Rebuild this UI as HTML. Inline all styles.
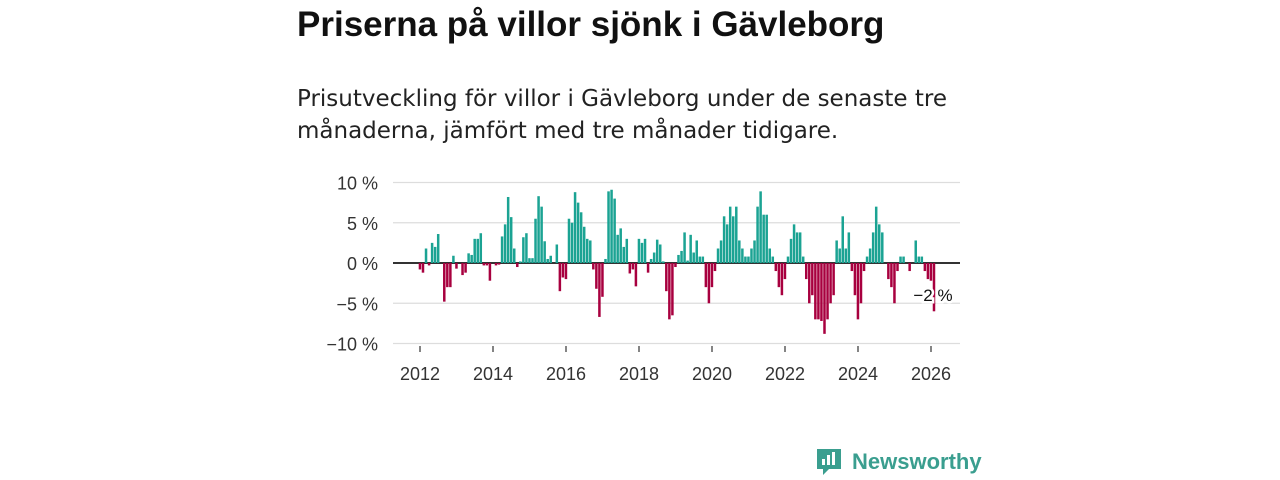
<!DOCTYPE html>
<html><head><meta charset="utf-8"><style>
body{margin:0;width:1280px;height:480px;background:#fff;font-family:"Liberation Sans","DejaVu Sans",sans-serif;overflow:hidden;position:relative}
h1{position:absolute;left:297px;top:5px;margin:0;font-size:35px;font-weight:bold;color:#111}
p{position:absolute;left:297px;top:83px;margin:0;font-family:"DejaVu Sans",sans-serif;font-size:23px;line-height:32px;color:#222;width:700px}
svg{position:absolute;left:0;top:0}
</style></head><body>
<h1>Priserna på villor sjönk i Gävleborg</h1>
<p>Prisutveckling för villor i Gävleborg under de senaste tre månaderna, jämfört med tre månader tidigare.</p>
<svg id="c" width="1280" height="480"></svg>
<script>
const values=[-0.8,-1.2,1.8,-0.3,2.5,2,3.6,0,-4.8,-3,-3,0.9,-0.7,0,-1.5,-1.2,1.2,1,3,3,3.7,-0.3,-0.3,-2.2,0,-0.3,-0.2,3.3,4.8,8.2,5.7,1.8,-0.5,0.2,3.2,3.7,0.6,0.6,5.5,8.3,7,2.7,
0.5,0.9,0,2.3,-3.5,-1.8,-2.0,5.5,5.0,8.8,7.5,6.3,4.5,3.0,2.8,-0.8,-3.2,-6.7,-4.2,0.5,8.9,9.1,8.0,3.5,4.3,2.0,3.0,-1.3,-0.8,-2.9,3.0,2.5,3.0,-1.2,0.5,1.3,2.9,2.3,0.2,-3.5,-7.0,-6.5,
-0.5,1.0,1.5,3.8,0.3,3.5,1.3,2.8,0.8,0.8,-3,-5,-3,-1,1.8,2.8,5.8,4.8,7,5.8,7,2.8,1.8,0.8,0.8,1.8,2.8,7,8.9,6,6,1.8,0.8,-1,-3,-4,-2,0.8,3,4.8,3.8,3.8,0.8,-2,-5,-4,-7,-7,-7.2,-8.8,
-7,-5,-4,2.8,1.8,5.8,1.8,3.8,-1,-4,-7,-5,-1,0.8,1.8,3.8,7,4.8,3.8,0,-2,-3,-5,-1,0.8,0.8,0,-1,0,2.8,0.8,0.8,-1,-2,-2.2,-6];
const yTicks=[10,5,0,-5,-10];
const yTickLabels=["10 %","5 %","0 %","\u22125 %","\u221210 %"];
const xTicks=[2012,2014,2016,2018,2020,2022,2024,2026];
const startYear=2012;
const NS="http://www.w3.org/2000/svg";
const svg=document.getElementById('c');
const x0=420,pxYear=36.5,pxMonth=pxYear/12;
function xs(m){return x0+m*pxMonth;}
function xy(yr){return x0+(yr-startYear)*pxYear;}
function ys(v){return 263-v*8.05;}
function mk(t,a){const e=document.createElementNS(NS,t);for(const k in a)e.setAttribute(k,a[k]);svg.appendChild(e);return e;}
yTicks.forEach((v,i)=>{
  const l=mk('line',{x1:393,x2:960,y1:ys(v),y2:ys(v),stroke:v===0?'#333':'#ddd','stroke-width':v===0?2:1.2});
  
  
  const t=mk('text',{x:378,y:ys(v)+7,'text-anchor':'end','font-size':18,fill:'#333'});
  t.textContent=yTickLabels[i];
  
  
});
values.forEach((v,m)=>{
  if(v===0)return;
  const y=ys(Math.max(v,0)),h=Math.abs(ys(v)-ys(0));
  const r=mk('rect',{x:xs(m)-1.3,y:v>0?y:ys(0),width:2.5,height:h,fill:v>0?'#1ba393':'#a8003f'});
  
  
});
xTicks.forEach(yr=>{
  const x=xy(yr);
  const tk=mk('line',{x1:x,x2:x,y1:346,y2:352,stroke:'#333','stroke-width':1.2});
  
  
  const t=mk('text',{x:x,y:380,'text-anchor':'middle','font-size':18,fill:'#333'});
  t.textContent=yr;
  
  
});
const lb=mk('text',{x:933,y:301,'text-anchor':'middle','font-size':17,fill:'#111',stroke:'#fff','stroke-width':5,'paint-order':'stroke'});
lb.textContent="\u22122 %";


</script>
<div style="position:absolute;left:815px;top:447px;display:flex;align-items:center;color:#3a9e8f;font-size:22px;font-weight:bold">
<svg width="28" height="30" viewBox="0 0 28 30" style="position:static;margin-right:9px"><path d="M2 2h24v20H14l-6 6v-6H2z" fill="#3a9e8f"/><rect x="7" y="12" width="3" height="6" fill="#fff"/><rect x="12" y="8" width="3" height="10" fill="#fff"/><rect x="17" y="5" width="3" height="13" fill="#fff"/></svg>
<span>Newsworthy</span></div>
</body></html>
